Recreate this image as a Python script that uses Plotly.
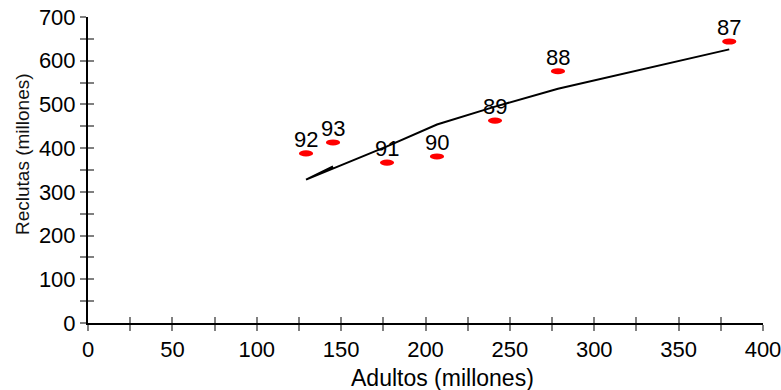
import plotly.graph_objects as go

years = ["87", "88", "89", "90", "91", "92", "93"]
adults = [380.0, 278.5, 241.2, 206.8, 177.2, 129.2, 145.2]
recruits = [644, 576, 463, 381, 367, 388, 413]
fitted = [626, 536, 495, 454, 404, 328, 358]

x_ticks = list(range(0, 401, 25))
x_text = [str(v) if v % 50 == 0 else "" for v in x_ticks]
y_ticks = list(range(0, 701, 50))
y_text = [str(v) if v % 100 == 0 else "" for v in y_ticks]

FONT = "Liberation Sans, Arial, sans-serif"

fig = go.Figure()
fig.add_trace(go.Scatter(x=adults, y=fitted, mode="lines",
                         line=dict(color="black", width=2), showlegend=False,
                         hoverinfo="skip"))
fig.add_trace(go.Scatter(x=[None], y=[None], xaxis="x2", yaxis="y2",
                         showlegend=False))

dx, dy = 4.2, 7.0
shapes = []
annots = []
for yr, a, r in zip(years, adults, recruits):
    shapes.append(dict(type="circle", xref="x", yref="y",
                       x0=a - dx, x1=a + dx, y0=r - dy, y1=r + dy,
                       fillcolor="red", line=dict(color="red", width=0)))
    annots.append(dict(x=a, y=r, text=yr, showarrow=False, yshift=14,
                       font=dict(size=22, color="black", family=FONT)))

annots.append(dict(text="Adultos (millones)", xref="paper", yref="paper",
                   x=(442 - 88) / 675, y=-(378 - 323) / 306, yanchor="middle",
                   xanchor="center", showarrow=False,
                   font=dict(size=23, color="black", family=FONT)))
annots.append(dict(text="Reclutas (millones)", xref="paper", yref="paper",
                   x=(22 - 88) / 675, y=(323 - 154) / 306, textangle=-90,
                   showarrow=False, xanchor="center", yanchor="middle",
                   font=dict(size=19, color="#111", family=FONT)))

axis_common = dict(showgrid=False, zeroline=False, ticklen=6, automargin=False,
                   tickcolor="#808080", tickwidth=1.5,
                   ticklabeloverflow="allow",
                   tickfont=dict(size=22, color="black", family=FONT))

fig.update_layout(
    width=781, height=390,
    margin=dict(l=88, r=18, t=17, b=67, autoexpand=False),
    plot_bgcolor="white", paper_bgcolor="white",
    xaxis=dict(range=[0, 400], tickmode="array", tickvals=x_ticks, ticktext=x_text,
               ticks="outside", showline=True, linecolor="black", linewidth=2,
               **axis_common),
    yaxis=dict(range=[0, 700], tickmode="array", tickvals=y_ticks, ticktext=y_text,
               ticks="outside", showline=True, linecolor="black", linewidth=2,
               **axis_common),
    xaxis2=dict(range=[0, 400], overlaying="x", anchor="y2", side="bottom",
                tickmode="array", tickvals=x_ticks, showticklabels=False,
                ticks="inside", showline=False, **axis_common),
    yaxis2=dict(range=[0, 700], overlaying="y", anchor="x2", side="left",
                tickmode="array", tickvals=y_ticks, showticklabels=False,
                ticks="inside", showline=False, **axis_common),
    shapes=shapes,
    annotations=annots,
)

fig.write_html("out.html", config={"displayModeBar": False},
               post_script="document.body.style.margin='0';document.body.style.overflow='hidden';")
